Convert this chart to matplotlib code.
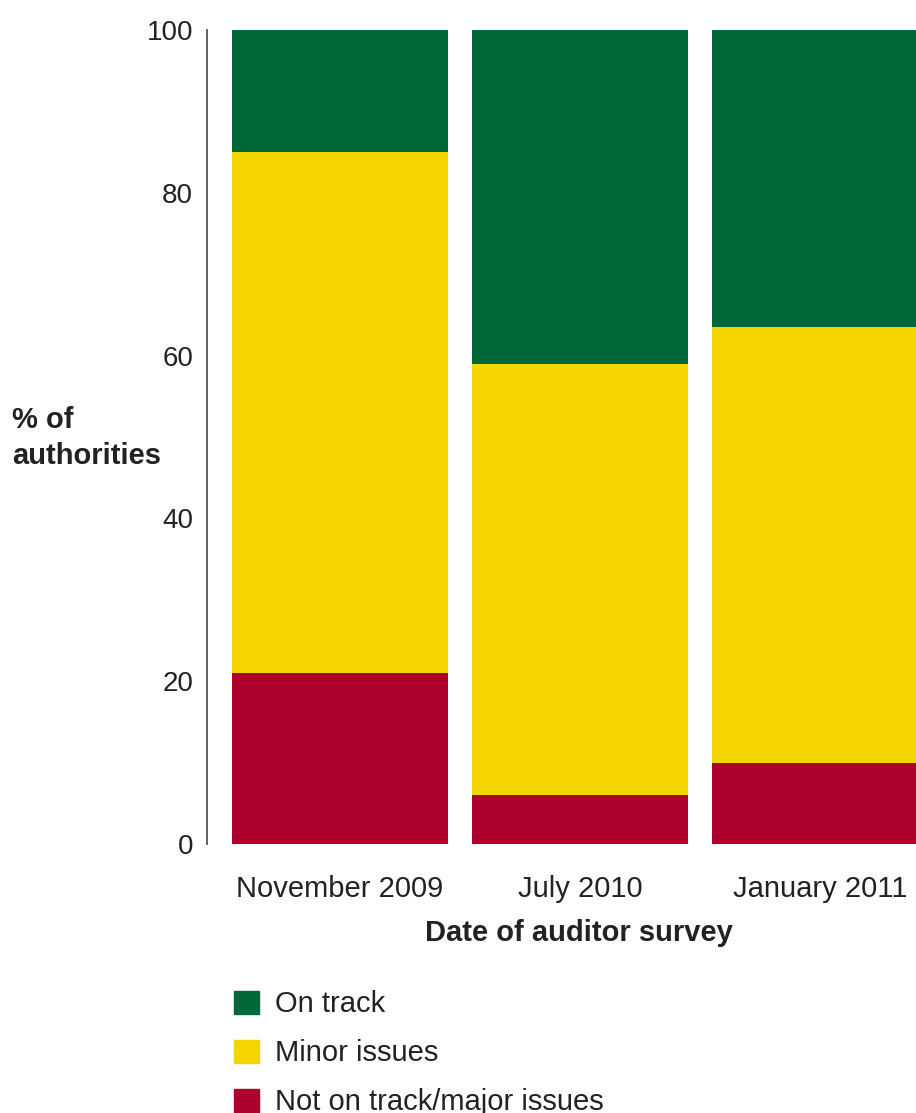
import numpy as np
import matplotlib
matplotlib.use("Agg")
import matplotlib.pyplot as plt
from matplotlib.patches import Patch

plt.rcParams['font.family'] = ['Liberation Sans', 'DejaVu Sans']

# survey data (% of authorities)
surveys = ["November 2009", "July 2010", "January 2011"]
not_on_track = [21, 6, 10]
minor_issues = [64, 53, 53.5]
on_track = [15, 41, 36.5]

green = "#006838"
yellow = "#F5D500"
red = "#AD002D"

fig = plt.figure(figsize=(9.16, 11.13), dpi=100)
ax = fig.add_axes([207 / 916, 1 - 844 / 1113, 1 - 207 / 916, (844 - 30) / 1113])

x = np.arange(len(surveys))
w = 0.9
ax.bar(x, not_on_track, w, color=red)
ax.bar(x, minor_issues, w, bottom=not_on_track, color=yellow)
ax.bar(x, on_track, w, bottom=np.array(not_on_track) + np.array(minor_issues), color=green)

ax.set_xlim(-0.554, 2.4)
ax.set_ylim(0, 100)
ax.set_yticks([0, 20, 40, 60, 80, 100])
ax.set_xticks(x)
ax.set_xticklabels(surveys)
for s in ["top", "right", "bottom"]:
    ax.spines[s].set_visible(False)
ax.spines["left"].set_color("#555555")
ax.spines["left"].set_linewidth(1.3)
ax.tick_params(axis="both", length=0, labelsize=20, colors="#222222")
ax.tick_params(axis="x", labelsize=21, pad=22)
ax.tick_params(axis="y", pad=10)

fig.text(12 / 916, 1 - 438 / 1113, "% of\nauthorities", fontsize=21, fontweight="bold",
         ha="left", va="center", color="#222222", linespacing=1.35)
fig.text(579 / 916, 1 - 933 / 1113, "Date of auditor survey", fontsize=21,
         fontweight="bold", ha="center", va="center", color="#222222")

handles = [Patch(color=green, label="On track"),
           Patch(color=yellow, label="Minor issues"),
           Patch(color=red, label="Not on track/major issues")]
leg = fig.legend(handles=handles, loc="upper left", bbox_to_anchor=(208 / 916, 1 - 964 / 1113),
                 frameon=False, fontsize=21, handlelength=0.85, handleheight=0.85,
                 handletextpad=0.55, labelspacing=0.72)
for t in leg.get_texts():
    t.set_color("#222222")

fig.savefig("out.png", dpi=100)
